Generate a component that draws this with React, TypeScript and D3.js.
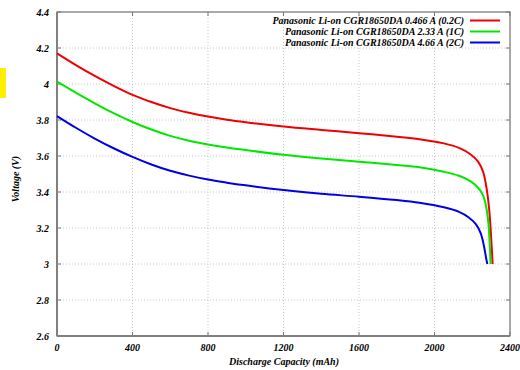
import React, { useEffect, useRef } from 'react';
import * as d3 from 'd3';

// capacity (mAh), voltage (V)
const red02C: [number, number][] = [
  [0, 4.17], [100, 4.105], [200, 4.045], [300, 3.99], [400, 3.94], [500, 3.9], [600, 3.866],
  [700, 3.84], [800, 3.819], [900, 3.802], [1000, 3.788], [1200, 3.764], [1400, 3.745],
  [1600, 3.727], [1800, 3.707], [1920, 3.693], [2050, 3.67], [2130, 3.645], [2190, 3.61],
  [2230, 3.57], [2258, 3.51], [2276, 3.42], [2290, 3.3], [2300, 3.15], [2308, 3.0],
];
const green1C: [number, number][] = [
  [0, 4.013], [100, 3.952], [200, 3.893], [300, 3.838], [400, 3.789], [500, 3.747], [600, 3.712],
  [700, 3.685], [800, 3.664], [900, 3.647], [1000, 3.633], [1200, 3.607], [1400, 3.586],
  [1600, 3.568], [1800, 3.55], [1920, 3.537], [2050, 3.512], [2130, 3.49], [2190, 3.46],
  [2230, 3.425], [2258, 3.38], [2275, 3.31], [2286, 3.22], [2293, 3.1], [2297, 3.0],
];
const blue2C: [number, number][] = [
  [0, 3.822], [100, 3.757], [200, 3.697], [300, 3.643], [400, 3.595], [500, 3.553], [600, 3.518],
  [700, 3.491], [800, 3.469], [900, 3.452], [1000, 3.437], [1200, 3.411], [1400, 3.39],
  [1600, 3.374], [1800, 3.355], [1920, 3.34], [2050, 3.315], [2130, 3.29], [2180, 3.26],
  [2220, 3.22], [2245, 3.17], [2262, 3.1], [2274, 3.03], [2280, 3.0],
];

const seriesNames = [
  'Panasonic Li-on CGR18650DA 0.466 A (0.2C)',
  'Panasonic Li-on CGR18650DA 2.33 A (1C)',
  'Panasonic Li-on CGR18650DA 4.66 A (2C)',
];
const seriesColors = ['#f00000', '#00e800', '#0000e8'];
const xTicks = [0, 400, 800, 1200, 1600, 2000, 2400];
const yTicks = [2.6, 2.8, 3, 3.2, 3.4, 3.6, 3.8, 4, 4.2, 4.4];

export default function App() {
  const ref = useRef<SVGSVGElement>(null);

  useEffect(() => {
    const svg = d3.select(ref.current);
    svg.selectAll('*').remove();

    const margin = { top: 12, right: 10, bottom: 34, left: 57 };
    const width = 520 - margin.left - margin.right;
    const height = 370 - margin.top - margin.bottom;
    const font = '"Liberation Serif", "Times New Roman", serif';

    // odd yellow patch at the left edge of the reference
    svg.append('rect').attr('x', 0).attr('y', 68).attr('width', 6).attr('height', 30).attr('fill', '#ffee00');

    const g = svg.append('g').attr('transform', `translate(${margin.left},${margin.top})`);

    const x = d3.scaleLinear().domain([0, 2400]).range([0, width]);
    const y = d3.scaleLinear().domain([2.6, 4.4]).range([height, 0]);

    // grid
    g.append('g').selectAll('line').data(xTicks.slice(1, -1)).join('line')
      .attr('x1', d => x(d)).attr('x2', d => x(d)).attr('y1', 0).attr('y2', height)
      .attr('stroke', '#c8c8c8').attr('stroke-dasharray', '1,2');
    g.append('g').selectAll('line').data(yTicks.slice(1, -1)).join('line')
      .attr('y1', d => y(d)).attr('y2', d => y(d)).attr('x1', 0).attr('x2', width)
      .attr('stroke', '#c8c8c8').attr('stroke-dasharray', '1,2');

    // border + inward ticks
    g.append('rect').attr('width', width).attr('height', height)
      .attr('fill', 'none').attr('stroke', '#555').attr('stroke-width', 1);
    const tk = g.append('g').attr('stroke', '#777').attr('stroke-width', 1);
    xTicks.forEach(t => {
      tk.append('line').attr('x1', x(t)).attr('x2', x(t)).attr('y1', height).attr('y2', height - 4);
      tk.append('line').attr('x1', x(t)).attr('x2', x(t)).attr('y1', 0).attr('y2', 4);
    });
    yTicks.forEach(t => {
      tk.append('line').attr('y1', y(t)).attr('y2', y(t)).attr('x1', 0).attr('x2', 4);
      tk.append('line').attr('y1', y(t)).attr('y2', y(t)).attr('x1', width).attr('x2', width - 4);
    });
    g.append('line').attr('x1', 0).attr('x2', 0).attr('y1', 0).attr('y2', height)
      .attr('stroke', '#808080').attr('stroke-width', 2);
    g.append('line').attr('x1', 0).attr('x2', width).attr('y1', height).attr('y2', height)
      .attr('stroke', '#808080').attr('stroke-width', 2);

    // tick labels
    g.append('g').selectAll('text').data(xTicks).join('text')
      .attr('x', d => x(d)).attr('y', height + 15)
      .attr('text-anchor', 'middle')
      .attr('font-family', font).attr('font-size', 10).attr('font-weight', 'bold').attr('font-style', 'italic')
      .text(d => String(d));
    g.append('g').selectAll('text').data(yTicks).join('text')
      .attr('x', -8).attr('y', d => y(d) + 3.5)
      .attr('text-anchor', 'end')
      .attr('font-family', font).attr('font-size', 10).attr('font-weight', 'bold').attr('font-style', 'italic')
      .text(d => d3.format('~g')(d));

    // axis titles
    svg.append('text')
      .attr('transform', `translate(19,${margin.top + height / 2 + 5}) rotate(-90)`)
      .attr('text-anchor', 'middle')
      .attr('font-family', font).attr('font-size', 10).attr('font-weight', 'bold').attr('font-style', 'italic')
      .text('Voltage (V)');
    svg.append('text')
      .attr('x', 284).attr('y', 365)
      .attr('text-anchor', 'middle')
      .attr('font-family', font).attr('font-size', 10).attr('font-weight', 'bold').attr('font-style', 'italic')
      .text('Discharge Capacity (mAh)');

    // curves
    const line = d3.line<[number, number]>()
      .x(d => x(d[0])).y(d => y(d[1]))
      .curve(d3.curveCatmullRom.alpha(0.5));
    [red02C, green1C, blue2C].forEach((s, i) => {
      g.append('path').datum(s).attr('d', line)
        .attr('fill', 'none').attr('stroke', seriesColors[i]).attr('stroke-width', 2);
    });

    // legend
    const lg = svg.append('g');
    seriesNames.forEach((name, i) => {
      const ly = 20.5 + i * 11;
      lg.append('text').attr('x', 464).attr('y', ly + 3.5)
        .attr('text-anchor', 'end')
        .attr('font-family', font).attr('font-size', 10).attr('font-weight', 'bold').attr('font-style', 'italic')
        .text(name);
      lg.append('line').attr('x1', 470).attr('x2', 500).attr('y1', ly).attr('y2', ly)
        .attr('stroke', seriesColors[i]).attr('stroke-width', 2);
    });
  }, []);

  return (
    <svg ref={ref} width={520} height={370}
      style={{ position: 'absolute', left: 0, top: 0, background: '#fff' }} />
  );
}
